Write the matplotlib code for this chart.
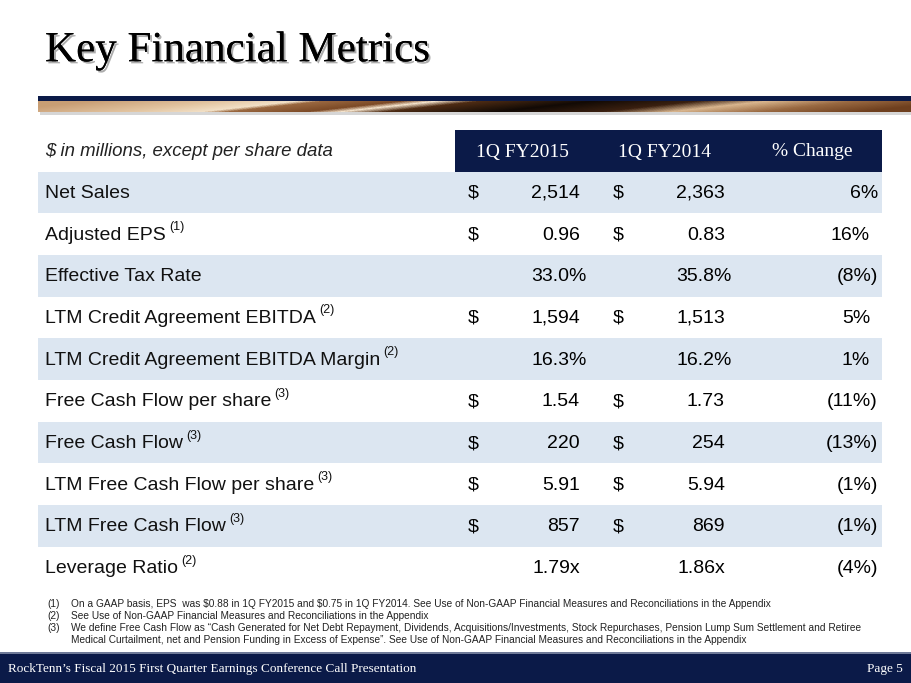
import numpy as np
import matplotlib
matplotlib.use('Agg')
import matplotlib.pyplot as plt
from matplotlib import patheffects
from matplotlib.colors import LinearSegmentedColormap

# table contents
metrics = ['Net Sales', 'Adjusted EPS', 'Effective Tax Rate',
           'LTM Credit Agreement EBITDA', 'LTM Credit Agreement EBITDA Margin',
           'Free Cash Flow per share', 'Free Cash Flow',
           'LTM Free Cash Flow per share', 'LTM Free Cash Flow', 'Leverage Ratio']
notes = ['', '(1)', '', '(2)', '(2)', '(3)', '(3)', '(3)', '(3)', '(2)']
fy2015 = [2514, 0.96, 33.0, 1594, 16.3, 1.54, 220, 5.91, 857, 1.79]
fy2014 = [2363, 0.83, 35.8, 1513, 16.2, 1.73, 254, 5.94, 869, 1.86]
pct_change = [6, 16, -8, 5, 1, -11, -13, -1, -1, -4]
kinds = ['usd0', 'usd2', 'pct', 'usd0', 'pct', 'usd2', 'usd0', 'usd2', 'usd0', 'x']
headers = ['1Q FY2015', '1Q FY2014', '% Change']

footnotes = [
    ('(1)', 'On a GAAP basis, EPS  was $0.88 in 1Q FY2015 and $0.75 in 1Q FY2014. '
            'See Use of Non-GAAP Financial Measures and Reconciliations in the Appendix'),
    ('(2)', 'See Use of Non-GAAP Financial Measures and Reconciliations in the Appendix'),
    ('(3)', 'We define Free Cash Flow as \u201cCash Generated for Net Debt Repayment, Dividends, '
            'Acquisitions/Investments, Stock Repurchases, Pension Lump Sum Settlement and Retiree'),
    ('', 'Medical Curtailment, net and Pension Funding in Excess of Expense\u201d. '
         'See Use of Non-GAAP Financial Measures and Reconciliations in the Appendix'),
]

NAVY = '#0b1a48'
LIGHT = '#dce6f1'
SANS = ['Liberation Sans', 'DejaVu Sans']
SERIF = ['Liberation Serif', 'DejaVu Serif']
NARROW = ['Liberation Sans Narrow', 'Liberation Sans', 'DejaVu Sans']
FS = 14


def fmt_value(v, kind):
    if kind == 'usd0':
        return f'{v:,.0f}'
    if kind == 'usd2':
        return f'{v:.2f}'
    if kind == 'pct':
        return f'{v:.1f}%'
    return f'{v:.2f}x'


def fmt_change(v):
    return f'({abs(v)}%)' if v < 0 else f'{v}%'


W, H = 911, 683
fig = plt.figure(figsize=(W / 100, H / 100), dpi=100)
ax = fig.add_axes([0, 0, 1, 1])
ax.set_xlim(0, W)
ax.set_ylim(H, 0)
ax.axis('off')
renderer = fig.canvas.get_renderer()

# title
ax.text(45, 51, 'Key Financial Metrics', fontsize=31, family=SERIF,
        color='black', va='center', ha='left',
        path_effects=[patheffects.withSimplePatchShadow(offset=(1.5, -1.5),
                                                        shadow_rgbFace='#777777',
                                                        alpha=0.6),
                      patheffects.Normal()])

# decorative swoosh under the title
swoosh = LinearSegmentedColormap.from_list('swoosh', [
    (0.00, '#c89e74'), (0.15, '#e2c4a0'), (0.24, '#f2e0c6'), (0.27, '#9a6840'),
    (0.36, '#7c4a26'), (0.40, '#f3e2cb'), (0.45, '#4e2c14'), (0.58, '#120a05'),
    (0.70, '#3a2010'), (0.78, '#d8b58e'), (0.88, '#9a6a42'), (1.00, '#6e3f1e')])
yy, xx = np.mgrid[0:12, 0:873]
band = (xx + (yy - 6) * 9.0) / 873.0
ax.imshow(swoosh(np.clip(band, 0, 1)), extent=(38, 911, 112, 100),
          aspect='auto', zorder=2, interpolation='bilinear')
ax.add_patch(plt.Rectangle((40, 112), 871, 3, color='#bbbbbb', alpha=0.6, lw=0))
ax.add_patch(plt.Rectangle((38, 96), 873, 4.5, color=NAVY, lw=0, zorder=3))

# header
top, row_h = 171.5, 41.7
ax.add_patch(plt.Rectangle((455, 130), 427, top - 130, color=NAVY, lw=0))
ax.text(45, 151, '$ in millions, except per share data', fontsize=13.4,
        family=SANS, style='italic', color='#222222', va='center')
for label, cx in zip(headers, [522, 665, 812]):
    ax.text(cx, 152, label, fontsize=14, family=SERIF, color='white',
            ha='center', va='center')

# rows
for i, name in enumerate(metrics):
    y0 = top + i * row_h
    yc = y0 + row_h / 2 + 1
    if i % 2 == 0:
        ax.add_patch(plt.Rectangle((38, y0), 844, row_h, color=LIGHT, lw=0))
    t = ax.text(45, yc, name, fontsize=FS, family=SANS, color='#111111',
                va='center')
    if notes[i]:
        bb = t.get_window_extent(renderer=renderer)
        ax.text(bb.x1 + 3, yc - 8, notes[i], fontsize=9, family=SANS,
                color='#111111', va='center')
    kind = kinds[i]
    pad = 7 if kind == 'pct' else 0
    if kind.startswith('usd'):
        ax.text(473, yc, '$', fontsize=FS, family=SANS, ha='center', va='center')
        ax.text(618, yc, '$', fontsize=FS, family=SANS, ha='center', va='center')
    ax.text(580 + pad, yc, fmt_value(fy2015[i], kind), fontsize=FS,
            family=SANS, ha='right', va='center')
    ax.text(725 + pad, yc, fmt_value(fy2014[i], kind), fontsize=FS,
            family=SANS, ha='right', va='center')
    right = 878 if (pct_change[i] < 0 or i == 0) else 870
    ax.text(right, yc, fmt_change(pct_change[i]), fontsize=FS,
            family=SANS, ha='right', va='center')

# footnotes
for j, (mark, text) in enumerate(footnotes):
    fy = 604 + j * 12
    if mark:
        ax.text(47, fy, mark, fontsize=7.3, family=NARROW, color='#222222',
                va='center', parse_math=False)
    ax.text(71, fy, text, fontsize=7.3, family=NARROW, color='#222222',
            va='center', parse_math=False)

# footer
ax.add_patch(plt.Rectangle((0, 652), W, 3, color='#6f7a98', lw=0))
ax.add_patch(plt.Rectangle((0, 654), W, H - 654, color=NAVY, lw=0))
ax.text(8, 669, 'RockTenn\u2019s Fiscal 2015 First Quarter Earnings Conference Call Presentation',
        fontsize=9.5, family=SERIF, color='white', va='center')
ax.text(903, 669, 'Page 5', fontsize=9.5, family=SERIF, color='white',
        ha='right', va='center')

fig.savefig('out.png', dpi=100)
